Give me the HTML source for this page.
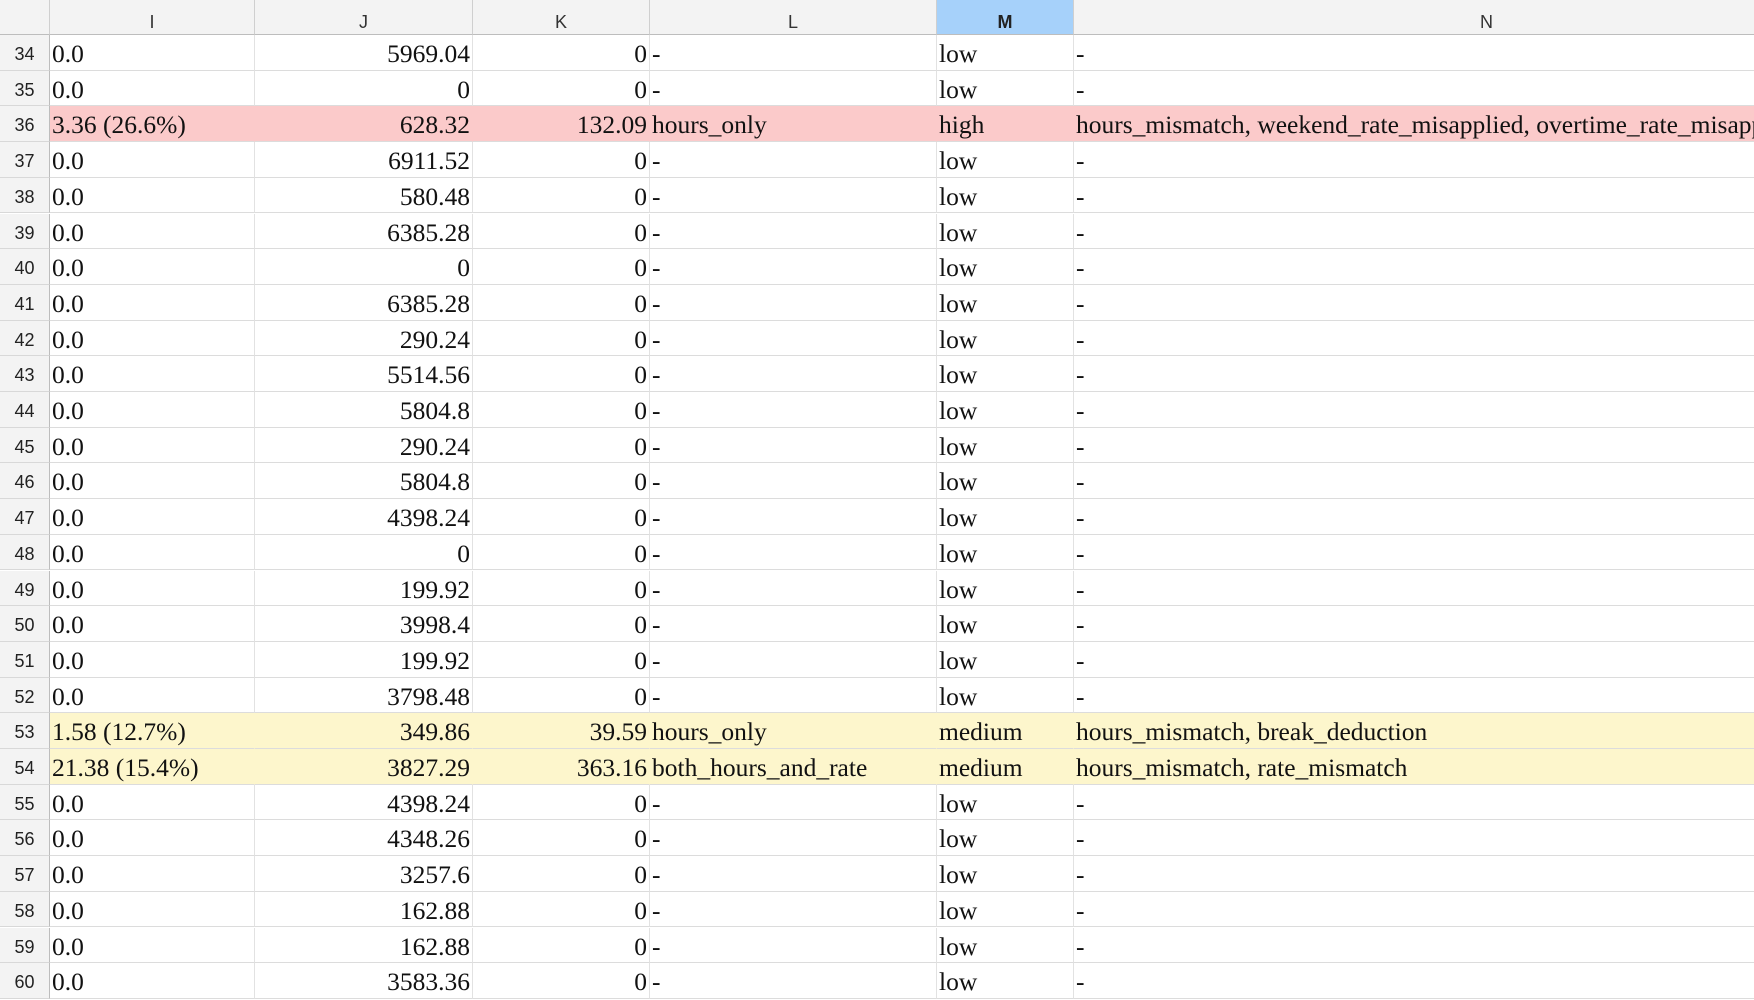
<!DOCTYPE html>
<html><head><meta charset="utf-8">
<style>
html,body{margin:0;padding:0;width:1754px;height:1000px;overflow:hidden;background:#fff;}
#sheet{position:relative;width:1754px;height:1000px;overflow:hidden;font-family:"Liberation Serif",serif;}
.hdr{position:absolute;top:0;height:35px;background:#f3f3f3;border-right:1px solid #cfcfcf;border-bottom:1px solid #bdbdbd;box-sizing:border-box;font-family:"Liberation Sans",sans-serif;font-size:18px;color:#333;text-align:center;line-height:44px;}
.hdr.sel{background:#a6d1fa;font-weight:bold;color:#222;}
.rh{position:absolute;left:0;width:50px;background:#f3f3f3;border-right:1px solid #bdbdbd;border-bottom:1px solid #d8d8d8;box-sizing:border-box;font-family:"Liberation Sans",sans-serif;font-size:18px;color:#222;text-align:center;}
.cell{position:absolute;box-sizing:border-box;border-right:1px solid #e2e2e2;border-bottom:1px solid #dcdcdc;font-size:25.5px;color:#111;white-space:nowrap;overflow:hidden;padding:0 2px;}
.r{text-align:right;}
</style></head><body>
<div id="sheet"></div>
<script>
const rowNums=[34,35,36,37,38,39,40,41,42,43,44,45,46,47,48,49,50,51,52,53,54,55,56,57,58,59,60];
const colI=["0.0","0.0","3.36 (26.6%)","0.0","0.0","0.0","0.0","0.0","0.0","0.0","0.0","0.0","0.0","0.0","0.0","0.0","0.0","0.0","0.0","1.58 (12.7%)","21.38 (15.4%)","0.0","0.0","0.0","0.0","0.0","0.0"];
const colJ=["5969.04","0","628.32","6911.52","580.48","6385.28","0","6385.28","290.24","5514.56","5804.8","290.24","5804.8","4398.24","0","199.92","3998.4","199.92","3798.48","349.86","3827.29","4398.24","4348.26","3257.6","162.88","162.88","3583.36"];
const colK=["0","0","132.09","0","0","0","0","0","0","0","0","0","0","0","0","0","0","0","0","39.59","363.16","0","0","0","0","0","0"];
const colL=["-","-","hours_only","-","-","-","-","-","-","-","-","-","-","-","-","-","-","-","-","hours_only","both_hours_and_rate","-","-","-","-","-","-"];
const colM=["low","low","high","low","low","low","low","low","low","low","low","low","low","low","low","low","low","low","low","medium","medium","low","low","low","low","low","low"];
const colN=["-","-","hours_mismatch, weekend_rate_misapplied, overtime_rate_misapplied","-","-","-","-","-","-","-","-","-","-","-","-","-","-","-","-","hours_mismatch, break_deduction","hours_mismatch, rate_mismatch","-","-","-","-","-","-"];
const headers=["I","J","K","L","M","N"];

const sheet=document.getElementById('sheet');
const edges=[50,255,473,650,937,1074,1754];
const HDR=35, RH=35.7;
const cols=[colI,colJ,colK,colL,colM,colN];
const align=["l","r","r","l","l","l"];
const corner=document.createElement('div');
corner.className='hdr';corner.style.left='0px';corner.style.width='50px';


sheet.appendChild(corner);
headers.forEach((h,i)=>{
  const d=document.createElement('div');
  d.className='hdr'+(h==='M'?' sel':'');
  d.style.left=edges[i]+'px';
  d.style.width=(h==='N'?680:(edges[i+1]-edges[i]))+'px';
  if(h==='N'){d.style.borderRight='none';d.style.textAlign='left';d.style.paddingLeft='406px';}
  d.textContent=h;
  
  
  sheet.appendChild(d);
});
rowNums.forEach((n,ri)=>{
  const top=HDR+ri*RH;
  let bg='#fff';
  if(colM[ri]==='high')bg='#fbcaca';
  else if(colM[ri]==='medium')bg='#fdf6cc';
  const rh=document.createElement('div');
  rh.className='rh';rh.style.top=top+'px';rh.style.height=RH+'px';rh.style.lineHeight=(RH+4)+'px';
  rh.textContent=n;
  
  
  sheet.appendChild(rh);
  cols.forEach((c,ci)=>{
    const d=document.createElement('div');
    d.className='cell'+(align[ci]==='r'?' r':'');
    d.style.left=edges[ci]+'px';
    d.style.width=(edges[ci+1]-edges[ci])+'px';
    d.style.top=top+'px';d.style.height=RH+'px';d.style.lineHeight=(RH+2)+'px';
    d.style.background=bg;
    if(bg!=='#fff')d.style.borderRight='1px solid transparent';
    if(ci===5)d.style.borderRight='none';
    d.textContent=c[ri];
    
    
    sheet.appendChild(d);
  });
});
</script>
</body></html>
